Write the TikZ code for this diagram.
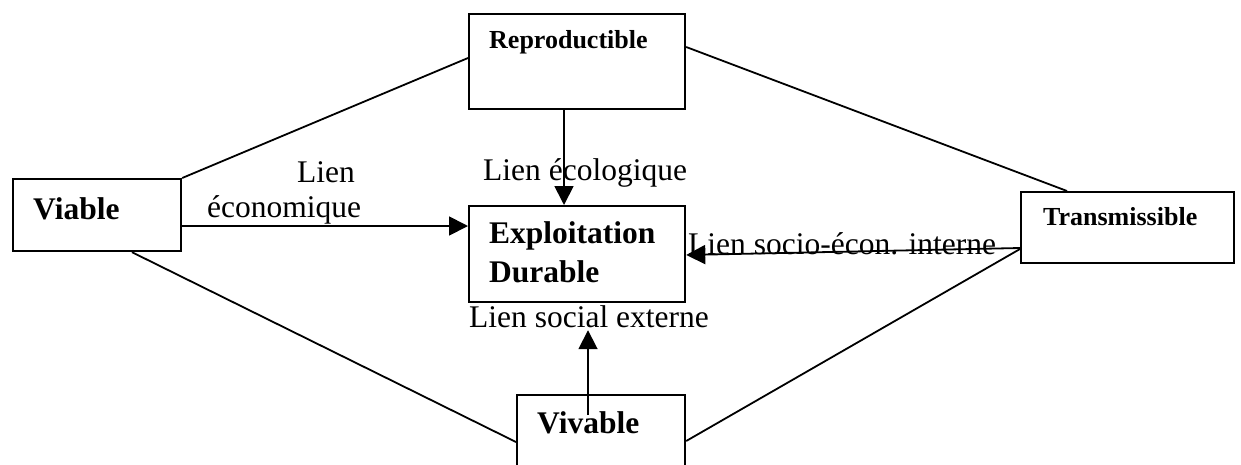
\documentclass[tikz,border=0pt]{standalone}
\usepackage{fontspec}
\setmainfont{Liberation Serif}
\usetikzlibrary{arrows.meta, positioning, calc}

\begin{document}
\begin{tikzpicture}[x=1pt, y=-1pt,
  boite/.style={draw, line width=2.2pt, inner sep=0, anchor=north west},
  lien/.style={line width=1.8pt},
  fleche/.style={line width=1.8pt, -{Triangle[length=19pt,width=19pt]}},
  titre/.style={anchor=base west, inner sep=0, font=\fontsize{31.5}{39}\selectfont\bfseries},
  petit/.style={anchor=base west, inner sep=0, font=\fontsize{26}{31}\selectfont\bfseries},
  texte/.style={anchor=base west, inner sep=0, font=\fontsize{31.5}{39}\selectfont}]
\useasboundingbox (0,0) rectangle (1241,464);

% boites
\node[boite, minimum width=216pt, minimum height=95pt] (repro) at (468,13) {};
\node[boite, minimum width=168pt, minimum height=72pt] (viable) at (12,178) {};
\node[boite, minimum width=216pt, minimum height=96pt] (exploit) at (468,205) {};
\node[boite, minimum width=213pt, minimum height=71pt] (trans) at (1020,191) {};
\node[boite, minimum width=168pt, minimum height=90pt] (vivable) at (516,394) {};

% textes des boites
\node[petit] (tRepro) at ($(repro.north west)+(21,35)$) {Reproductible};
\node[titre] (tViable) at ($(viable.north west)+(21,41)$) {Viable};
\node[titre, align=left] (tExploit) at ($(exploit.north west)+(21,77)$) {Exploitation\\Durable};
\node[petit] (tTrans) at ($(trans.north west)+(23,34)$) {Transmissible};
\node[titre] (tVivable) at ($(vivable.north west)+(21,39)$) {Vivable};

% liens entre les criteres
\draw[lien] (viable.north east) -- ($(repro.north west)+(0,45)$);
\draw[lien] ($(repro.north east)+(0,34)$) -- ($(trans.north west)+(47,0)$);
\draw[lien] ($(viable.south west)+(120,0)$) -- ($(vivable.north west)+(0,48)$);
\draw[lien] ($(vivable.north east)+(0,47)$) -- ($(trans.north west)+(0,58)$);

% fleches vers l'exploitation
\draw[fleche] ($(viable.north east)+(0,48)$) -- ($(exploit.north west)+(0,21)$);
\draw[fleche] ($(repro.south west)+(96,0)$) -- ($(exploit.north west)+(96,0)$);
\draw[fleche] ($(trans.north west)+(0,57)$) -- ($(exploit.north east)+(0,50)$);
\coordinate (depVivable) at ($(vivable.north west)+(72,21)$);
\coordinate (finVivable) at ($(exploit.south west)+(120,27)$);
\draw[fleche] (depVivable) -- (finVivable);

% etiquettes
\node[texte] (lEco1) at (297,182) {Lien};
\node[texte] (lEco2) at (207,217) {économique};
\node[texte] (lEcolo) at (483,180) {Lien écologique};
\node[texte] (lSocio) at (688,254) {Lien socio-écon. interne};
\node[texte] (lSocial) at (469,327) {Lien social externe};
\end{tikzpicture}
\end{document}
